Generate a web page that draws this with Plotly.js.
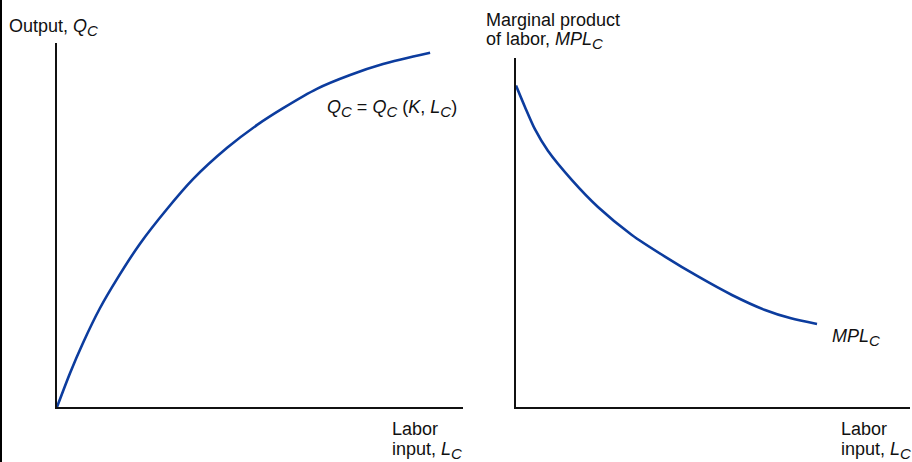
<!DOCTYPE html>
<html>
<head>
<meta charset="utf-8">
<script src="https://cdn.plot.ly/plotly-3.0.1.min.js"></script>
<style>html,body{margin:0;padding:0;background:#fff;}#chart{width:912px;height:462px;}</style>
</head>
<body>
<div id="chart"></div>
<script>
// Left panel: total product curve Q_C = Q_C(K, L_C)
const laborLeft  = [0, 3.2, 6.4, 10.6, 14.8, 20.4, 27.1, 33.5, 41.9, 49.3, 55.7, 64.0, 72.2, 80.3, 91.9];
const outputLeft = [0, 9.3, 17.6, 27.2, 35.2, 44.8, 54.4, 62.6, 71.2, 77.5, 82.1, 87.4, 91.2, 94.2, 97.3];

// Right panel: marginal product of labor MPL_C
const laborRight = [0, 2.3, 4.8, 8.1, 14.2, 20.8, 29.4, 37.8, 46.2, 54.8, 63.2, 69.8, 76.4];
const mplRight   = [92.1, 85.9, 79.6, 73.4, 65.0, 57.3, 49.3, 43.1, 37.4, 32.1, 27.8, 25.4, 23.8];

const W = 912, H = 462;
const px = v => v / W;
const py = v => (H - v) / H;
const FONT = 'Liberation Sans, Arial, Helvetica, sans-serif';
const BLUE = '#0c3c9e';

const traces = [
  {x: laborLeft, y: outputLeft, xaxis: 'x', yaxis: 'y', mode: 'lines',
   line: {color: BLUE, width: 2.6, shape: 'spline', smoothing: 0.7}, hoverinfo: 'skip'},
  {x: laborRight, y: mplRight, xaxis: 'x2', yaxis: 'y2', mode: 'lines',
   line: {color: BLUE, width: 2.6, shape: 'spline', smoothing: 0.7}, hoverinfo: 'skip'}
];

const axisBase = {showline: true, linecolor: '#111', linewidth: 2, showgrid: false,
  zeroline: false, showticklabels: false, ticks: '', fixedrange: true};

const sub = s => '<sub><span style="font-size:15px"><i>' + s + '</i></span></sub>';

function ann(text, xLeft, yTop) {
  return {text: text, xref: 'paper', yref: 'paper', x: px(xLeft), y: py(yTop),
    xanchor: 'left', yanchor: 'top', showarrow: false, align: 'left',
    font: {family: FONT, size: 18, color: '#111'}};
}

const layout = {
  width: W, height: H,
  margin: {l: 0, r: 0, t: 0, b: 0},
  paper_bgcolor: '#fff', plot_bgcolor: 'rgba(0,0,0,0)',
  showlegend: false,
  xaxis:  Object.assign({}, axisBase, {domain: [px(57), px(463)], range: [0, 100], anchor: 'y'}),
  yaxis:  Object.assign({}, axisBase, {domain: [py(407), py(43)], range: [0, 100], anchor: 'x'}),
  xaxis2: Object.assign({}, axisBase, {domain: [px(516), px(910)], range: [0, 100], anchor: 'y2'}),
  yaxis2: Object.assign({}, axisBase, {domain: [py(407), py(58)], range: [0, 100], anchor: 'x2'}),
  annotations: [
    ann('Output, <i>Q</i>' + sub('C'), 7, 13.7),
    ann('<i>Q</i>' + sub('C') + ' = <i>Q</i>' + sub('C') + ' (<i>K</i>, <i>L</i>' + sub('C') + ')', 324.7, 94.5),
    ann('Labor', 389.7, 416.7),
    ann('input, <i>L</i>' + sub('C'), 389.7, 436.7),
    ann('Marginal product', 484, 7.7),
    ann('of labor, <i>MPL</i>' + sub('C'), 484, 26.7),
    ann('<i>MPL</i>' + sub('C'), 829.7, 324.4),
    ann('Labor', 839, 416.7),
    ann('input, <i>L</i>' + sub('C'), 839, 436.7)
  ],
  shapes: [
    {type: 'rect', xref: 'paper', yref: 'paper', x0: 0, x1: px(2), y0: 0, y1: 1,
     fillcolor: '#000', line: {width: 0}}
  ]
};

Plotly.newPlot('chart', traces, layout, {staticPlot: true, displayModeBar: false});
</script>
</body>
</html>
